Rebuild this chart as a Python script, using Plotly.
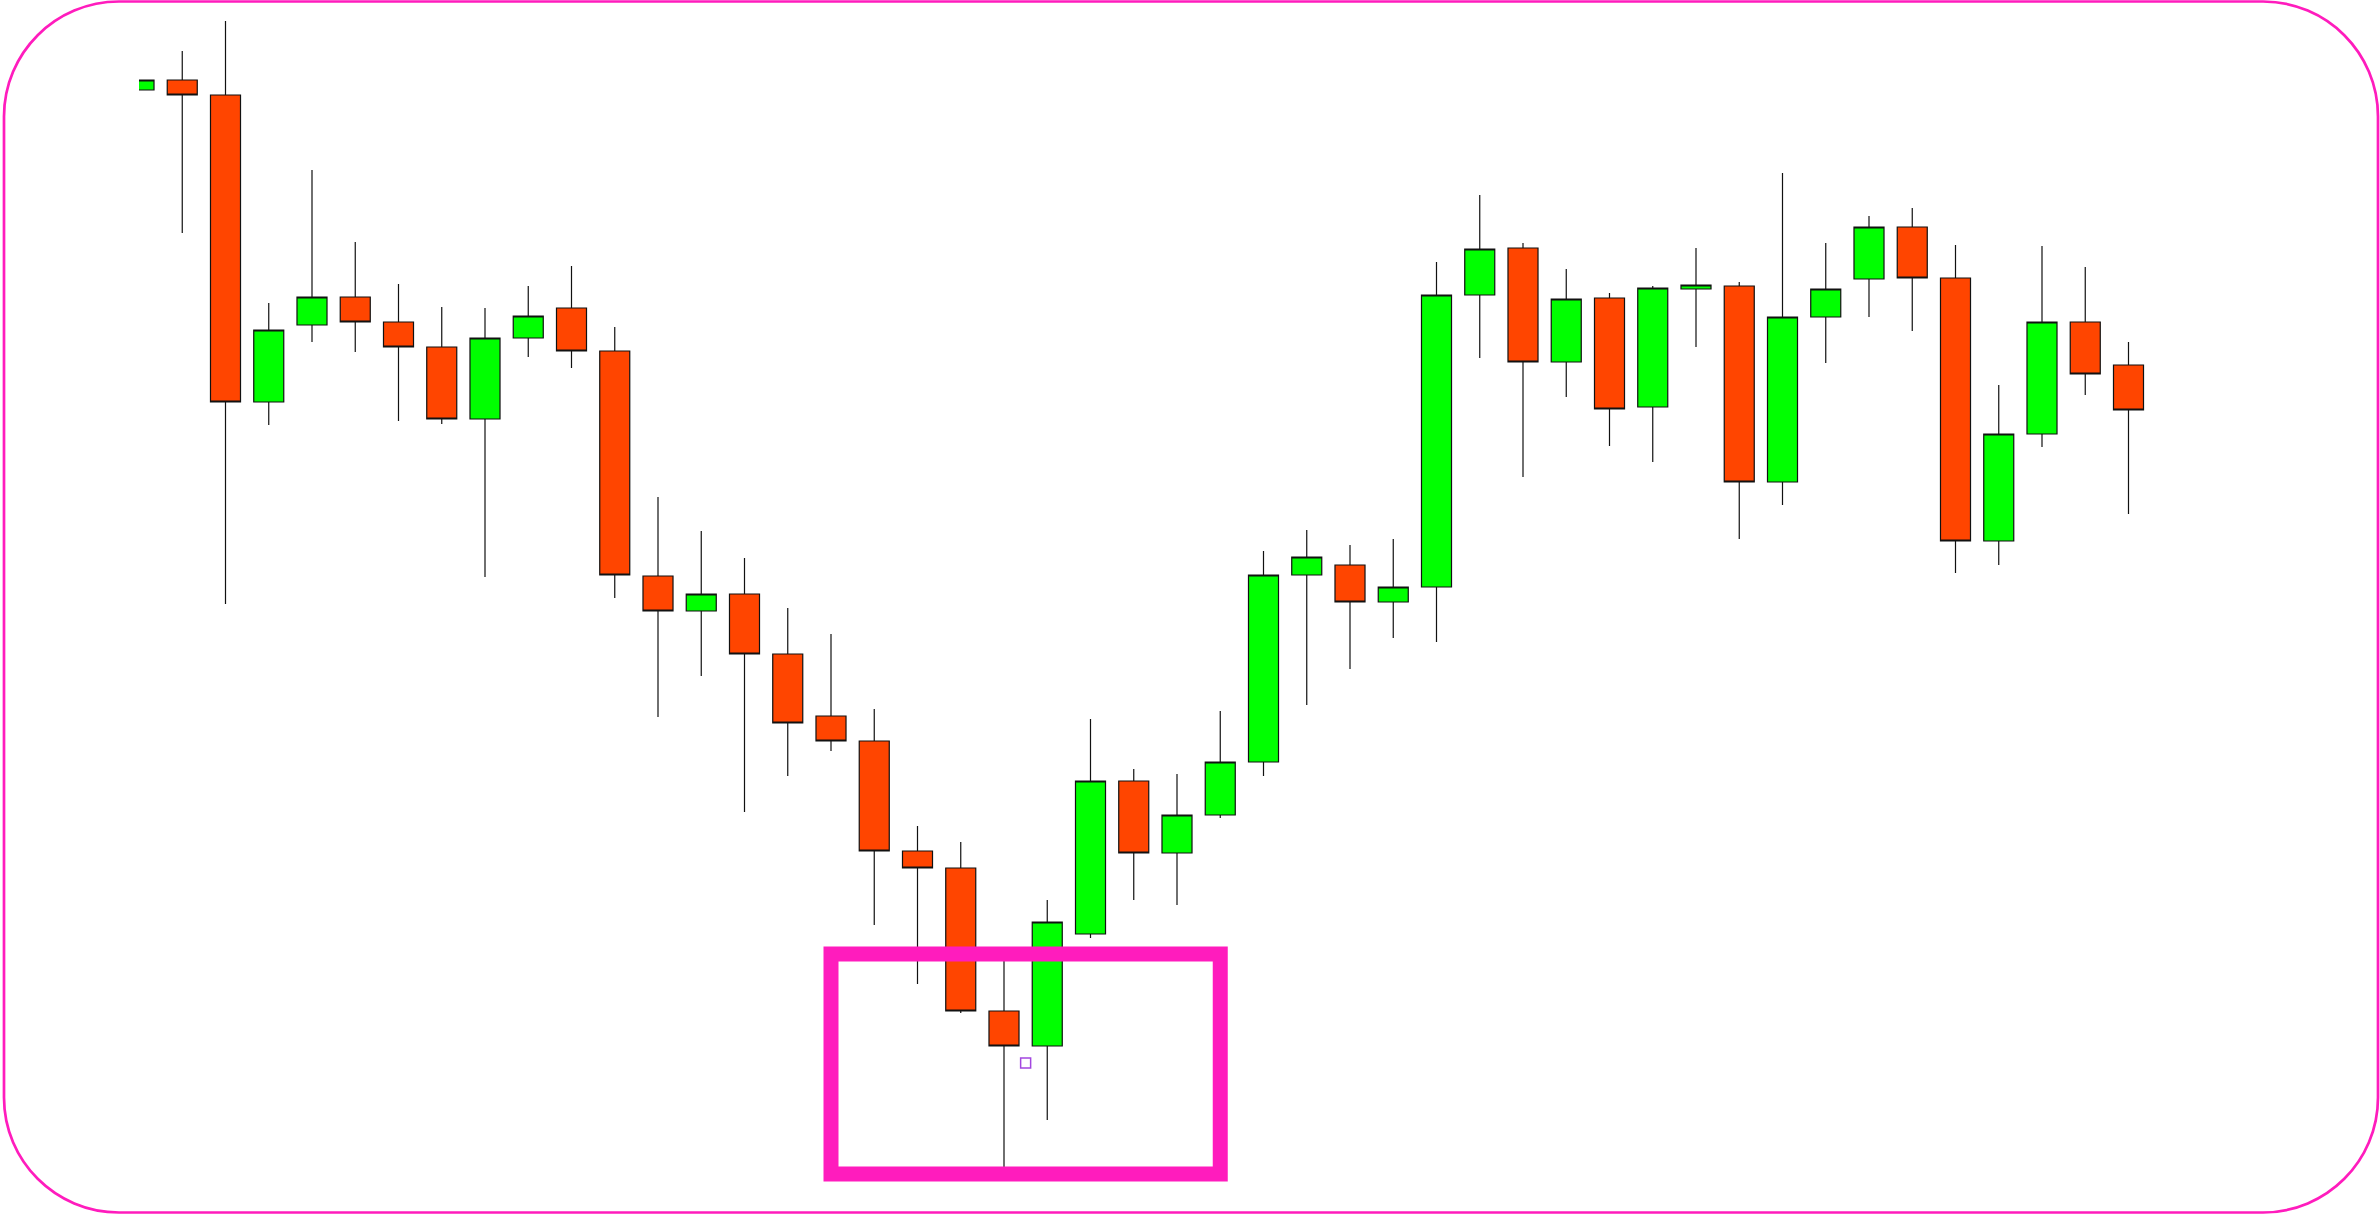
import plotly.graph_objects as go

# ---- data (price units) ----
idx = list(range(47))
open_ = [1125, 1135, 1120, 813, 890, 918, 893, 868, 796, 877,
         907, 864, 639, 604, 621, 561, 499, 474, 364, 347,
         204, 169, 281, 434, 362, 400, 453, 640, 650, 613,
         628, 920, 967, 853, 917, 808, 926, 929, 733, 898,
         936, 988, 937, 674, 781, 893, 850]
high = [1135, 1164, 1194, 912, 1045, 973, 931, 908, 907, 929,
        949, 888, 718, 684, 657, 607, 581, 506, 389, 373,
        260, 315, 496, 446, 441, 504, 664, 685, 670, 676,
        953, 1020, 972, 946, 922, 929, 967, 933, 1042, 972,
        999, 1007, 970, 830, 969, 948, 873]
low = [1125, 982, 611, 790, 873, 863, 794, 791, 638, 858,
       847, 617, 498, 539, 403, 439, 464, 290, 231, 202,
       43, 95, 277, 315, 310, 397, 439, 510, 546, 577,
       573, 857, 738, 818, 769, 753, 868, 676, 710, 852,
       898, 884, 642, 650, 768, 820, 701]
close = [1135, 1120, 813, 885, 918, 893, 868, 796, 877, 899,
         864, 640, 604, 621, 561, 492, 474, 364, 347, 204,
         169, 293, 434, 362, 400, 453, 640, 658, 613, 628,
         920, 966, 853, 916, 806, 927, 930, 733, 898, 926,
         988, 937, 674, 781, 893, 841, 805]

box_x = [16, 25]          # highlighted range (candle positions)
box_y = [261, 41]         # highlighted range (price)
marker_x = [20.5]
marker_y = [152]

W, H = 2380, 1215
L_MARGIN = 139
SPACING = 43.25
PINK = "#FF1CBD"

fig = go.Figure()
fig.add_trace(go.Candlestick(
    x=idx, open=open_, high=high, low=low, close=close,
    increasing=dict(fillcolor="#00FF00", line=dict(color="#111111", width=1.2)),
    decreasing=dict(fillcolor="#FF4500", line=dict(color="#111111", width=1.2)),
    whiskerwidth=0, showlegend=False, hoverinfo="skip",
))
fig.add_trace(go.Scatter(
    x=marker_x, y=marker_y, mode="markers",
    marker=dict(symbol="square-open", size=10, color="#A347E0", line=dict(width=1.5)),
    showlegend=False, hoverinfo="skip",
))

# highlight box (drawn above candles)
fig.add_shape(type="rect", xref="x", yref="y",
              x0=box_x[0], x1=box_x[1], y0=box_y[0], y1=box_y[1],
              line=dict(color=PINK, width=15), fillcolor="rgba(0,0,0,0)", layer="above")

# rounded outer border in paper coordinates (computed from pixel geometry)
plot_w = W - L_MARGIN
def px(x):
    return (x - L_MARGIN) / plot_w
def py(y):
    return (H - y) / H
l, r, t, b, rad = 4, 2378, 1.5, 1212.5, 115
k = 0.5523 * rad
pts = [
    f"M {px(l+rad)},{py(t)}",
    f"L {px(r-rad)},{py(t)}",
    f"C {px(r-rad+k)},{py(t)} {px(r)},{py(t+rad-k)} {px(r)},{py(t+rad)}",
    f"L {px(r)},{py(b-rad)}",
    f"C {px(r)},{py(b-rad+k)} {px(r-rad+k)},{py(b)} {px(r-rad)},{py(b)}",
    f"L {px(l+rad)},{py(b)}",
    f"C {px(l+rad-k)},{py(b)} {px(l)},{py(b-rad+k)} {px(l)},{py(b-rad)}",
    f"L {px(l)},{py(t+rad)}",
    f"C {px(l)},{py(t+rad-k)} {px(l+rad-k)},{py(t)} {px(l+rad)},{py(t)}",
    "Z",
]
fig.add_shape(type="path", xref="paper", yref="paper", path=" ".join(pts),
              line=dict(color=PINK, width=2.7), fillcolor="rgba(0,0,0,0)", layer="above")

fig.update_layout(
    width=W, height=H,
    margin=dict(l=L_MARGIN, r=0, t=0, b=0),
    paper_bgcolor="white", plot_bgcolor="white",
    boxgap=0.306, boxgroupgap=0,
    xaxis=dict(range=[0, plot_w / SPACING], visible=False, showgrid=False,
               zeroline=False, rangeslider=dict(visible=False), fixedrange=True),
    yaxis=dict(range=[0, H], visible=False, showgrid=False, zeroline=False, fixedrange=True),
    hovermode=False,
)

fig.write_html("out.html", config={"displayModeBar": False},
               post_script="document.body.style.margin='0';document.body.style.overflow='hidden';")
